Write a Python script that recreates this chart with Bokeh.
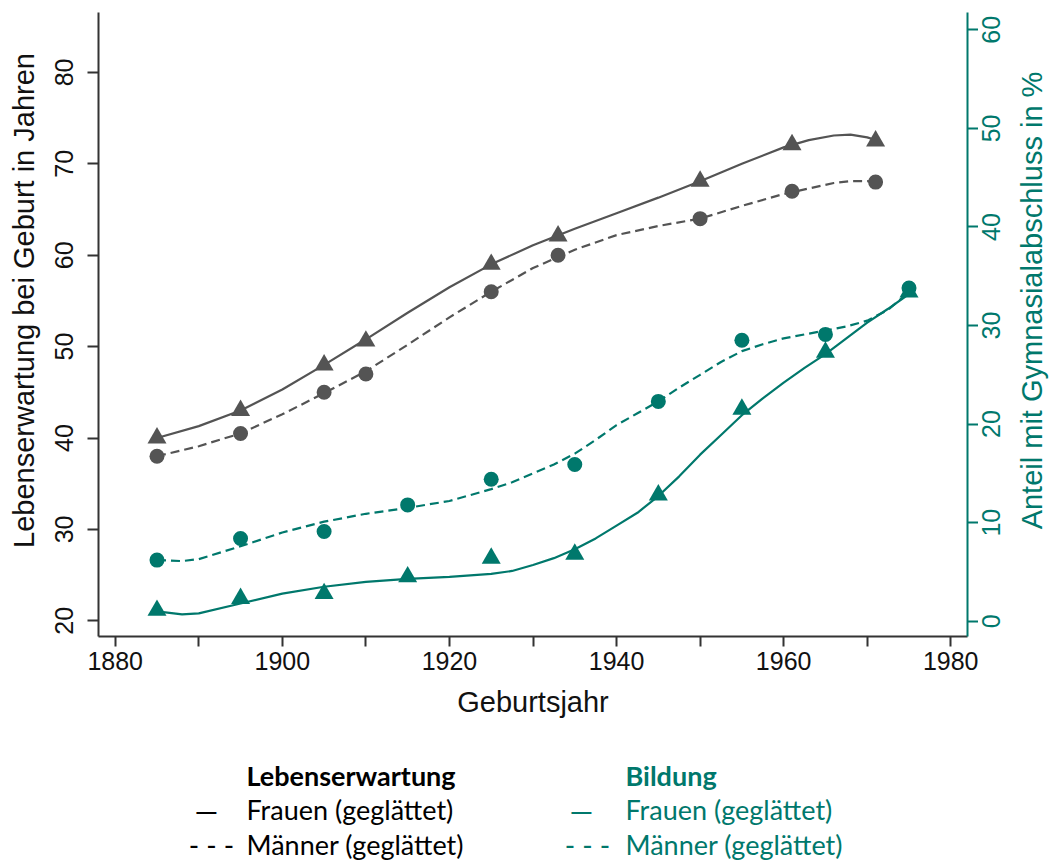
import math
from bokeh.plotting import figure
from bokeh.layouts import row, column
from bokeh.models import Range1d, LinearAxis, FixedTicker, Label
from bokeh.embed import file_html
from bokeh.resources import INLINE

# ---------------- data ----------------
# Life expectancy at birth (left axis), observed points
le_years = [1885, 1895, 1905, 1910, 1925, 1933, 1950, 1961, 1971]
le_frauen = [40.0, 43.0, 48.0, 50.6, 59.0, 62.1, 68.1, 72.1, 72.5]
le_maenner = [38.0, 40.5, 45.0, 47.0, 56.0, 60.0, 64.0, 67.0, 68.0]

# Life expectancy, smoothed curves
le_s_years = [1885, 1890, 1895, 1900, 1905, 1910, 1915, 1920, 1925, 1930,
              1935, 1940, 1945, 1950, 1955, 1960, 1963, 1966, 1968, 1970, 1971]
le_frauen_s = [40.0, 41.3, 43.0, 45.3, 48.0, 50.8, 53.7, 56.5, 59.0, 61.1,
               62.9, 64.6, 66.3, 68.1, 70.0, 71.8, 72.6, 73.1, 73.2, 72.9, 72.6]
le_maenner_s = [38.0, 39.1, 40.5, 42.6, 44.9, 47.3, 50.2, 53.2, 56.0, 58.6,
                60.6, 62.2, 63.2, 64.0, 65.4, 66.7, 67.3, 67.9, 68.1, 68.1, 68.0]

# Share with Gymnasium degree in % (right axis), observed points
bi_years = [1885, 1895, 1905, 1915, 1925, 1935, 1945, 1955, 1965, 1975]
bi_frauen = [1.1, 2.3, 2.8, 4.5, 6.4, 6.8, 12.8, 21.5, 27.3, 33.4]
bi_maenner = [6.2, 8.4, 9.1, 11.8, 14.4, 15.9, 22.3, 28.5, 29.1, 33.8]

# Education, smoothed curves
bi_s_years = [1885, 1888, 1890, 1895, 1900, 1905, 1910, 1915, 1920, 1925,
              1927.5, 1930, 1932.5, 1935, 1937.5, 1940, 1942.5, 1945, 1947.5, 1950,
              1952.5, 1955, 1957.5, 1960, 1962.5, 1965, 1967.5, 1970, 1972.5, 1975]
bi_frauen_s = [1.0, 0.7, 0.8, 1.8, 2.8, 3.5, 4.0, 4.3, 4.5, 4.8,
               5.1, 5.7, 6.4, 7.3, 8.4, 9.7, 11.0, 12.7, 14.7, 16.9,
               18.9, 20.9, 22.6, 24.2, 25.7, 27.1, 28.7, 30.3, 31.7, 33.2]
bi_maenner_s = [6.2, 6.1, 6.3, 7.6, 9.0, 10.1, 10.9, 11.5, 12.2, 13.4,
                14.1, 15.0, 15.9, 17.0, 18.4, 19.9, 21.1, 22.3, 23.7, 25.0,
                26.3, 27.4, 28.1, 28.7, 29.1, 29.5, 29.9, 30.5, 31.6, 33.4]

# axes / ticks
x_ticks = [1880, 1890, 1900, 1910, 1920, 1930, 1940, 1950, 1960, 1970, 1980]
x_tick_labels = ["1880", "", "1900", "", "1920", "", "1940", "", "1960", "", "1980"]
left_ticks = [20, 30, 40, 50, 60, 70, 80]
left_tick_labels = ["20", "30", "40", "50", "60", "70", "80"]
right_ticks = [0, 10, 20, 30, 40, 50, 60]
right_tick_labels = ["0", "10", "20", "30", "40", "50", "60"]

x_title = "Geburtsjahr"
left_title = "Lebenserwartung bei Geburt in Jahren"
right_title = "Anteil mit Gymnasialabschluss in %"

legend_head_le = "Lebenserwartung"
legend_head_bi = "Bildung"
legend_frauen = "Frauen (geglättet)"
legend_maenner = "Männer (geglättet)"

# ---------------- style / layout ----------------
GRAY = "#545454"
TEAL = "#00786C"
AXIS = "#333333"
TXT = "#111111"
FONT = "Liberation Sans"
LFONT = "Lato"

TOTAL_W = 1052
TOP_H = 740           # height of the chart row
LEG_H = 121           # height of the legend strip
FT, FB = 12, 636      # frame top / bottom (page px)
LP_W = 85             # left text panel width
FL, FW = 98, 869      # frame left / width
MAIN_W = (FL - LP_W) + FW + 11
RP_W = TOTAL_W - LP_W - MAIN_W

y_left = Range1d(18.28, 86.56)
y_right = Range1d(-1.55, 61.76)


def panel(width, height, y_range, top=FT, bottom=TOP_H - FB):
    f = figure(width=width, height=height, output_backend="svg", toolbar_location=None,
               x_range=Range1d(0, 1), y_range=y_range,
               x_axis_type=None, y_axis_type=None,
               min_border_left=0, min_border_right=0,
               min_border_top=top, min_border_bottom=bottom)
    f.outline_line_color = None
    f.grid.visible = False
    f.border_fill_color = "white"
    f.background_fill_color = "white"
    return f


# ---------------- main chart ----------------
p = figure(width=MAIN_W, height=TOP_H, output_backend="svg", toolbar_location=None,
           x_range=Range1d(1878, 1982), y_range=y_left,
           min_border_left=FL - LP_W, min_border_right=11, min_border_top=FT,
           min_border_bottom=TOP_H - FB)
p.outline_line_color = None
p.grid.visible = False
p.background_fill_color = "white"
p.border_fill_color = "white"
p.extra_y_ranges = {"right": y_right}

xa = p.xaxis[0]
xa.ticker = FixedTicker(ticks=x_ticks)
xa.major_label_overrides = {t: l for t, l in zip(x_ticks, x_tick_labels)}
xa.minor_tick_line_color = None
xa.major_tick_in = 0
xa.major_tick_out = 10
xa.major_tick_line_width = 2
xa.major_tick_line_color = AXIS
xa.axis_line_width = 2
xa.axis_line_color = AXIS
xa.major_label_text_font = FONT
xa.major_label_text_font_size = "25px"
xa.major_label_text_color = TXT
xa.major_label_standoff = 5
xa.axis_label = x_title
xa.axis_label_text_font = FONT
xa.axis_label_text_font_size = "29px"
xa.axis_label_text_font_style = "normal"
xa.axis_label_text_color = TXT
xa.axis_label_standoff = 13

ya = p.yaxis[0]
ya.ticker = FixedTicker(ticks=left_ticks)
ya.major_label_overrides = {t: "" for t in left_ticks}
ya.major_label_text_font_size = "0px"
ya.major_label_standoff = 0
ya.minor_tick_line_color = None
ya.major_tick_in = 0
ya.major_tick_out = 11
ya.major_tick_line_width = 2
ya.major_tick_line_color = AXIS
ya.axis_line_width = 2
ya.axis_line_color = AXIS

ra = LinearAxis(y_range_name="right", ticker=FixedTicker(ticks=right_ticks))
ra.major_label_overrides = {t: "" for t in right_ticks}
ra.major_label_text_font_size = "0px"
ra.major_label_standoff = 0
ra.minor_tick_line_color = None
ra.major_tick_in = 0
ra.major_tick_out = 11
ra.major_tick_line_width = 2
ra.major_tick_line_color = TEAL
ra.axis_line_width = 2
ra.axis_line_color = TEAL
p.add_layout(ra, "right")

# curves
p.line(le_s_years, le_frauen_s, line_color=GRAY, line_width=2.2)
p.line(le_s_years, le_maenner_s, line_color=GRAY, line_width=2.2, line_dash="9 5")
p.line(bi_s_years, bi_frauen_s, line_color=TEAL, line_width=2.2, y_range_name="right")
p.line(bi_s_years, bi_maenner_s, line_color=TEAL, line_width=2.2, line_dash="9 5",
       y_range_name="right")

# markers
p.scatter(le_years, le_frauen, marker="triangle", size=19, fill_color=GRAY, line_color=None)
p.scatter(le_years, le_maenner, marker="circle", size=15, fill_color=GRAY, line_color=None)
p.scatter(bi_years, bi_frauen, marker="triangle", size=19, fill_color=TEAL, line_color=None,
          y_range_name="right")
p.scatter(bi_years, bi_maenner, marker="circle", size=15, fill_color=TEAL, line_color=None,
          y_range_name="right")

# ---------------- left text panel: tick labels + title ----------------
lp = panel(LP_W, TOP_H, y_left)
for t, l in zip(left_ticks, left_tick_labels):
    lp.add_layout(Label(x=63, y=t, x_units="screen", text=l, angle=math.pi / 2,
                        text_align="center", text_baseline="middle", text_font=FONT,
                        text_font_size="25px", text_color=TXT))
lp.add_layout(Label(x=23, y=FB - 300, x_units="screen", y_units="screen",
                    text=left_title, angle=math.pi / 2, text_align="center",
                    text_baseline="alphabetic", text_font=FONT,
                    text_font_size="29px", text_color=TXT))

# ---------------- right text panel: tick labels + title ----------------
x0 = LP_W + MAIN_W
rp = panel(RP_W, TOP_H, y_right)
for t, l in zip(right_ticks, right_tick_labels):
    rp.add_layout(Label(x=990 - x0, y=t, x_units="screen", text=l, angle=math.pi / 2,
                        text_align="center", text_baseline="middle", text_font=FONT,
                        text_font_size="25px", text_color=TEAL))
rp.add_layout(Label(x=1031 - x0, y=FB - 300, x_units="screen", y_units="screen",
                    text=right_title, angle=math.pi / 2, text_align="center",
                    text_baseline="alphabetic", text_font=FONT,
                    text_font_size="29px", text_color=TEAL))

# ---------------- legend strip ----------------
lg = panel(TOTAL_W, LEG_H, Range1d(0, 1), top=0, bottom=0)


def lab(txt, x_px, y_px, color, bold=False, align="left", size="27px"):
    lg.add_layout(Label(x=x_px, y=TOP_H + LEG_H - y_px, x_units="screen", y_units="screen",
                        text=txt, text_font=LFONT, text_font_size=size,
                        text_font_style="bold" if bold else "normal",
                        text_color=color, text_baseline="middle", text_align=align))


lab(legend_head_le, 246, 775, "#000000", bold=True)
lab("—", 206, 809, "#000000", align="center", size="30px")
lab(legend_frauen, 246, 809, "#000000")
lab("- - -", 211, 844, "#000000", align="center", size="28px")
lab(legend_maenner, 246, 844, "#000000")

lab(legend_head_bi, 625, 775, TEAL, bold=True)
lab("—", 581, 809, TEAL, align="center", size="30px")
lab(legend_frauen, 625, 809, TEAL)
lab("- - -", 587, 844, TEAL, align="center", size="28px")
lab(legend_maenner, 625, 844, TEAL)

layout = column(row(lp, p, rp, spacing=0), lg, spacing=0)
open("out.html", "w").write(file_html(layout, INLINE))
